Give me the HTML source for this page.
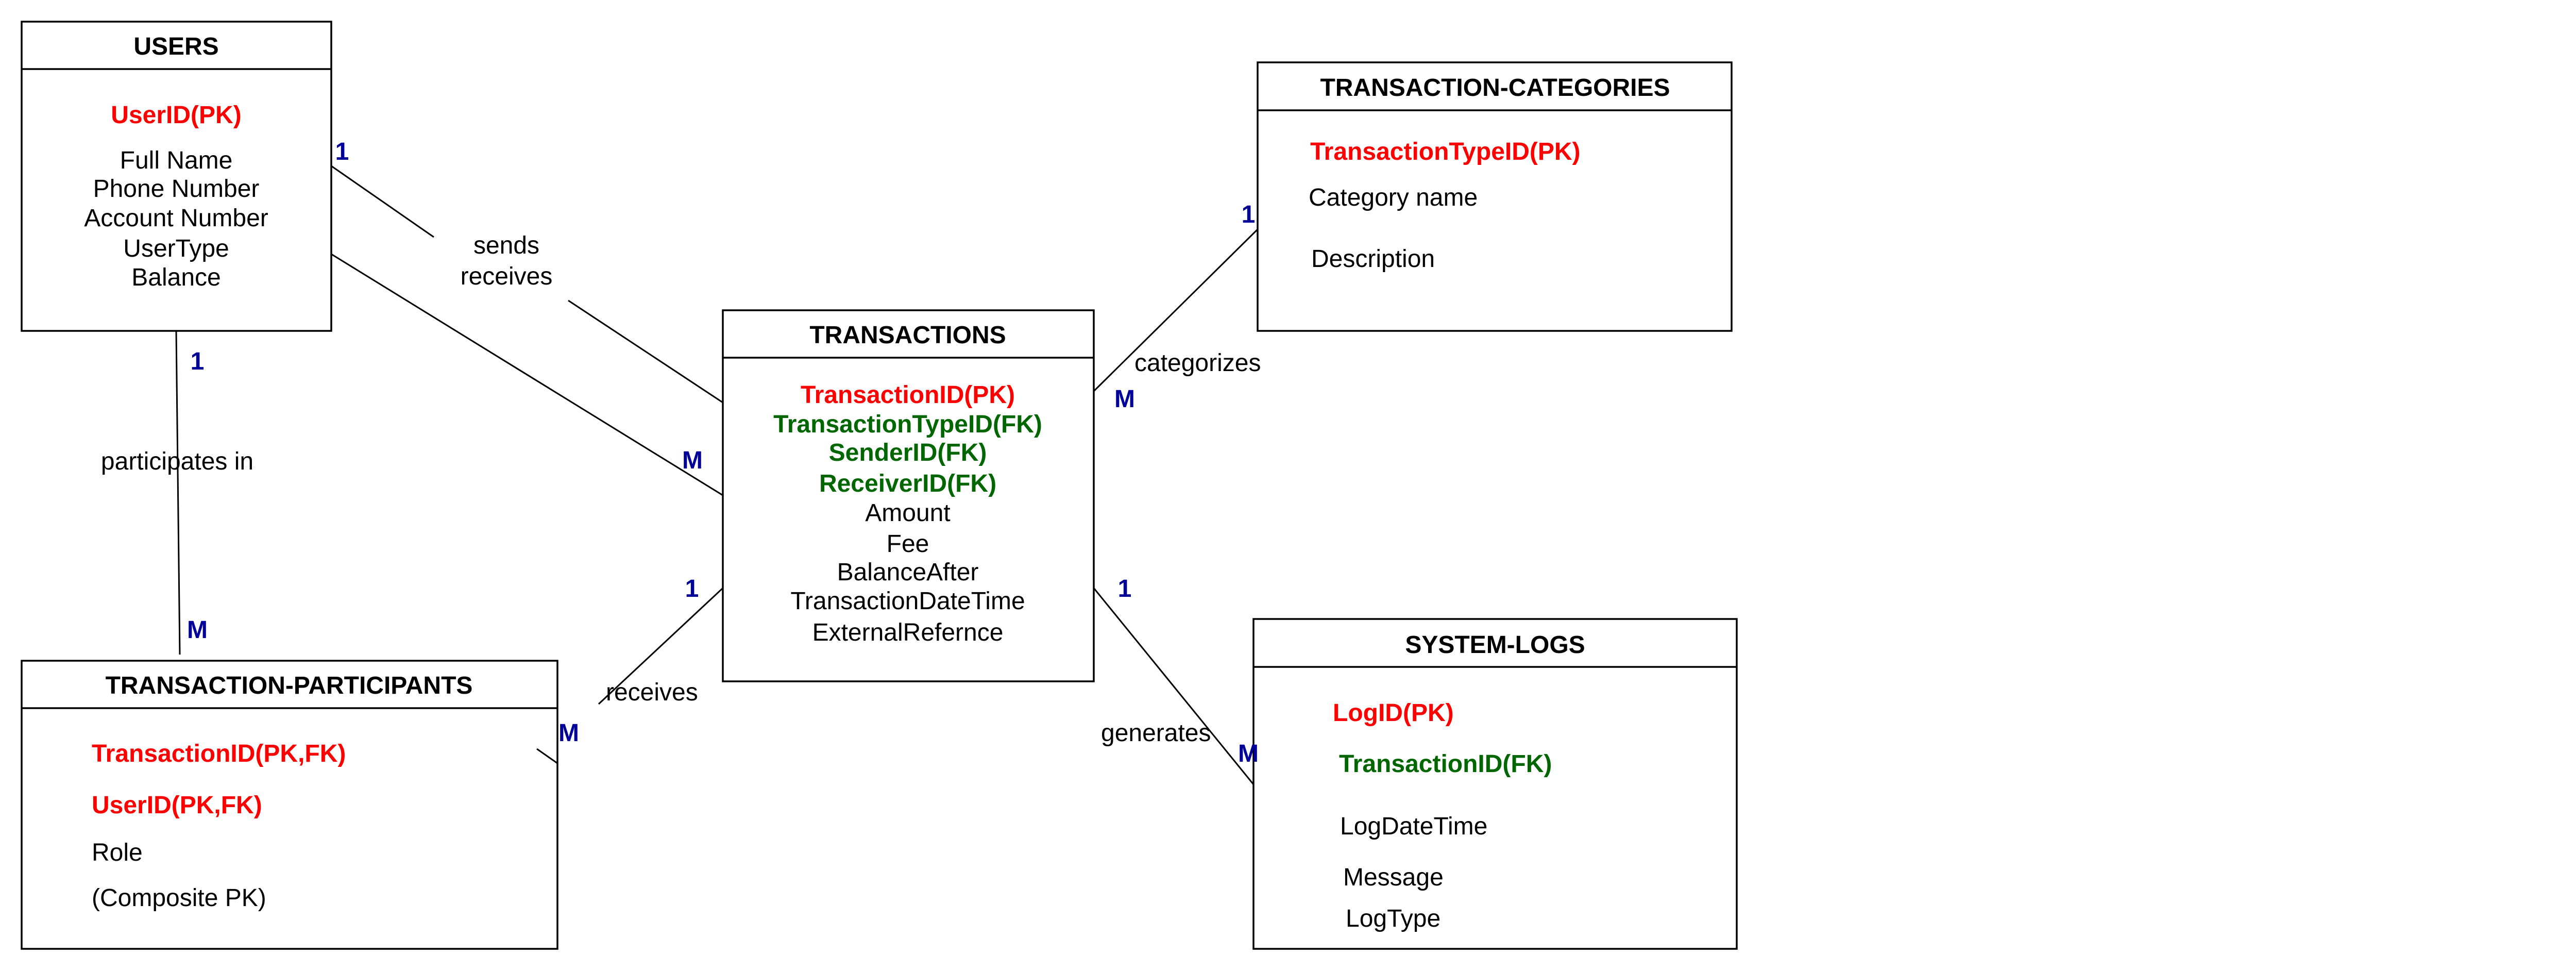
<!DOCTYPE html>
<html><head><meta charset="utf-8"><style>
html,body{margin:0;padding:0;background:#fff;}
svg{display:block;}
text{font-family:"Liberation Sans",Arial,sans-serif;font-size:48px;}
.b{font-weight:bold;}
.r{fill:#ff0000;font-weight:bold;}
.g{fill:#006600;font-weight:bold;}
.n{fill:#000099;font-weight:bold;}
</style></head><body>
<svg width="5284" height="1884" viewBox="0 0 5284 1884" xmlns="http://www.w3.org/2000/svg">
<g fill="none" stroke="#000" stroke-width="3.5">
<rect x="42" y="42" width="601" height="600"/><line x1="42" y1="134" x2="643" y2="134"/>
<rect x="1403" y="602" width="720" height="720"/><line x1="1403" y1="694" x2="2123" y2="694"/>
<rect x="42" y="1282" width="1040" height="559"/><line x1="42" y1="1374" x2="1082" y2="1374"/>
<rect x="2441" y="121" width="920" height="521"/><line x1="2441" y1="214" x2="3361" y2="214"/>
<rect x="2433" y="1201" width="938" height="640"/><line x1="2433" y1="1294" x2="3371" y2="1294"/>
</g>
<g stroke="#000" stroke-width="3">
<line x1="643" y1="322" x2="842" y2="460"/>
<line x1="1103" y1="583" x2="1403" y2="781"/>
<line x1="643" y1="493" x2="1403" y2="961"/>
<line x1="342" y1="643" x2="349" y2="1270"/>
<line x1="1403" y1="1141" x2="1162" y2="1366"/>
<line x1="1042" y1="1453" x2="1082" y2="1481"/>
<line x1="2123" y1="759" x2="2441" y2="445"/>
<line x1="2123" y1="1141" x2="2433" y2="1522"/>
</g>
<g text-anchor="middle">
<text class="b" x="342" y="106">USERS</text>
<text class="r" x="342" y="239">UserID(PK)</text>
<text x="342" y="327">Full Name</text>
<text x="342" y="382">Phone Number</text>
<text x="342" y="439">Account Number</text>
<text x="342" y="498">UserType</text>
<text x="342" y="554">Balance</text>
<text class="b" x="1762" y="666">TRANSACTIONS</text>
<text class="r" x="1762" y="782">TransactionID(PK)</text>
<text class="g" x="1762" y="839">TransactionTypeID(FK)</text>
<text class="g" x="1762" y="894">SenderID(FK)</text>
<text class="g" x="1762" y="954">ReceiverID(FK)</text>
<text x="1762" y="1011">Amount</text>
<text x="1762" y="1071">Fee</text>
<text x="1762" y="1126">BalanceAfter</text>
<text x="1762" y="1182">TransactionDateTime</text>
<text x="1762" y="1243">ExternalRefernce</text>
<text class="b" x="561" y="1346">TRANSACTION-PARTICIPANTS</text>
<text class="b" x="2902" y="186">TRANSACTION-CATEGORIES</text>
<text class="b" x="2902" y="1267">SYSTEM-LOGS</text>
<text x="983" y="492">sends</text>
<text x="983" y="552">receives</text>
<text x="344" y="911">participates in</text>
</g>
<text class="r" x="178" y="1478">TransactionID(PK,FK)</text>
<text class="r" x="178" y="1578">UserID(PK,FK)</text>
<text x="178" y="1670">Role</text>
<text x="178" y="1758">(Composite PK)</text>
<text class="r" x="2543" y="310">TransactionTypeID(PK)</text>
<text x="2540" y="399">Category name</text>
<text x="2545" y="518">Description</text>
<text class="r" x="2587" y="1399">LogID(PK)</text>
<text class="g" x="2599" y="1498">TransactionID(FK)</text>
<text x="2601" y="1619">LogDateTime</text>
<text x="2607" y="1718">Message</text>
<text x="2612" y="1798">LogType</text>
<text x="5090" y="1718">Text</text>
<text x="1176" y="1359">receives</text>
<text x="2202" y="720">categorizes</text>
<text x="2137" y="1438">generates</text>
<g text-anchor="middle">
<text class="n" x="664" y="310">1</text>
<text class="n" x="1344" y="909">M</text>
<text class="n" x="383" y="717">1</text>
<text class="n" x="383" y="1238">M</text>
<text class="n" x="1343" y="1158">1</text>
<text class="n" x="1104" y="1438">M</text>
<text class="n" x="2423" y="432">1</text>
<text class="n" x="2183" y="790">M</text>
<text class="n" x="2183" y="1158">1</text>
<text class="n" x="2423" y="1478">M</text>
</g>
</svg>
</body></html>
